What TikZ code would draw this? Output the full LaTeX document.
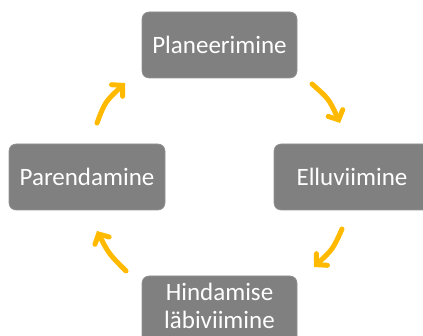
\documentclass[tikz,border=0pt]{standalone}
\usepackage{fontspec}
\setmainfont{Carlito}
\usetikzlibrary{arrows.meta}
\definecolor{boxgray}{HTML}{808080}
\definecolor{arrowgold}{HTML}{FFBA00}
\tikzset{
  stagebox/.style={fill=boxgray, draw=boxgray!85!white, line width=0.6pt, rounded corners=7pt, text=white,
    font=\fontsize{25}{27}\selectfont, align=center, inner sep=0pt},
  stagetext/.style={text=white, font=\fontsize{25}{27}\selectfont, inner sep=0pt, anchor=base},
  cyclearrow/.style={draw=arrowgold, line width=5pt, line cap=round,
    -{Straight Barb[length=7.5pt,width=16pt,line cap=round]}}
}
\begin{document}
\begin{tikzpicture}[x=1pt,y=-1pt]
\useasboundingbox (0,0) rectangle (423,336);
\clip (0,0) rectangle (423,336);
\node[stagebox, minimum width=155pt, minimum height=72pt] (hind) at (219.5,312) {};
\node[stagetext] (hind1) at (219.5,301) {Hindamise};
\node[stagetext] (hind2) at (219.5,328.5) {läbiviimine};
\node[stagebox, minimum width=155pt, minimum height=66pt] (plan) at (219.5,45) {Planeerimine};
\node[stagebox, minimum width=156pt, minimum height=66pt] (ellu) at (352,177) {Elluviimine};
\node[stagebox, minimum width=156pt, minimum height=66pt] (paren) at (87,177) {Parendamine};
\coordinate (a1s) at (97,123);
\coordinate (a1e) at (125,83);
\coordinate (a2s) at (312,84);
\coordinate (a2e) at (340,123);
\coordinate (a3s) at (342,229);
\coordinate (a3e) at (314,267);
\coordinate (a4s) at (126,271);
\coordinate (a4e) at (97,231);
\draw[cyclearrow] (a1s) .. controls (105,102) .. (a1e);
\draw[cyclearrow] (a2s) .. controls (329,99) .. (a2e);
\draw[cyclearrow] (a3s) .. controls (333,249) .. (a3e);
\draw[cyclearrow] (a4s) .. controls (109,254) .. (a4e);
\end{tikzpicture}
\end{document}
